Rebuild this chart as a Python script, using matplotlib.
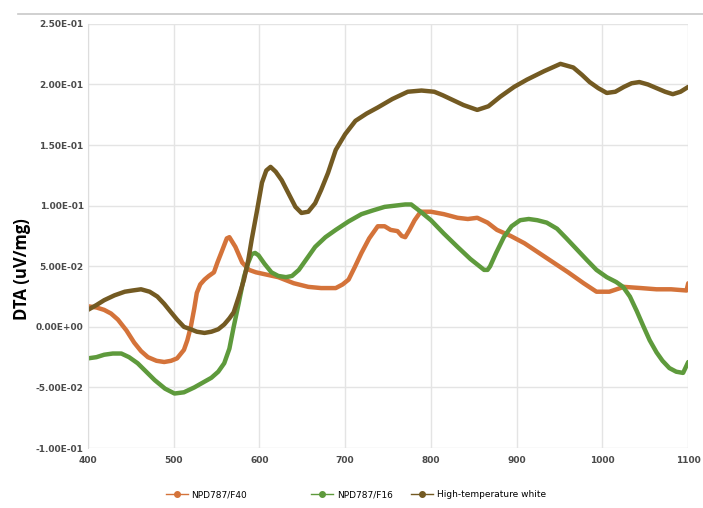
import matplotlib
matplotlib.use("Agg")
import matplotlib.pyplot as plt
from matplotlib.ticker import FuncFormatter, MultipleLocator
from matplotlib.lines import Line2D

# temperature (x) and DTA (y) values
f40_x = [400, 410, 419, 427, 435, 445, 454, 462, 470, 480, 489, 497, 504, 512, 516, 520, 524, 527,
         531, 536, 541, 547, 551, 556, 562, 565, 572, 580, 588, 596, 609, 622, 640, 657, 672, 689,
         697, 704, 711, 719, 728, 738, 746, 753, 761, 766, 770, 775, 781, 788, 800, 815, 831, 843,
         854, 866, 877, 893, 909, 926, 943, 960, 978, 993, 1008, 1025, 1045, 1063, 1080, 1098, 1100]
f40_y = [0.017, 0.016, 0.014, 0.011, 0.006, -0.003, -0.013, -0.020, -0.025, -0.028, -0.029, -0.028,
         -0.026, -0.019, -0.011, 0.000, 0.015, 0.028, 0.035, 0.039, 0.042, 0.045, 0.053, 0.062,
         0.073, 0.074, 0.066, 0.053, 0.047, 0.045, 0.043, 0.041, 0.036, 0.033, 0.032, 0.032, 0.035,
         0.039, 0.049, 0.061, 0.073, 0.083, 0.083, 0.080, 0.079, 0.075, 0.074, 0.080, 0.088, 0.095,
         0.095, 0.093, 0.090, 0.089, 0.090, 0.086, 0.080, 0.075, 0.069, 0.061, 0.053, 0.045, 0.036,
         0.029, 0.029, 0.033, 0.032, 0.031, 0.031, 0.030, 0.036]

f16_x = [400, 410, 419, 429, 439, 448, 458, 468, 478, 490, 501, 512, 524, 534, 544, 552, 559, 565,
         570, 576, 582, 587, 591, 595, 599, 606, 614, 622, 631, 638, 646, 655, 665, 677, 689, 704,
         719, 732, 746, 758, 770, 777, 788, 800, 815, 831, 846, 862, 866, 869, 876, 885, 894, 904,
         914, 924, 935, 947, 958, 970, 982, 993, 1005, 1016, 1024, 1032, 1040, 1048, 1055, 1063,
         1070, 1078, 1086, 1094, 1100]
f16_y = [-0.026, -0.025, -0.023, -0.022, -0.022, -0.025, -0.030, -0.037, -0.044, -0.051, -0.055,
         -0.054, -0.050, -0.046, -0.042, -0.037, -0.030, -0.018, 0.000, 0.020, 0.041, 0.053, 0.060,
         0.061, 0.059, 0.052, 0.045, 0.042, 0.041, 0.042, 0.047, 0.056, 0.066, 0.074, 0.080, 0.087,
         0.093, 0.096, 0.099, 0.100, 0.101, 0.101, 0.095, 0.088, 0.077, 0.066, 0.056, 0.047, 0.047,
         0.050, 0.061, 0.074, 0.083, 0.088, 0.089, 0.088, 0.086, 0.081, 0.073, 0.064, 0.055, 0.047,
         0.041, 0.037, 0.033, 0.025, 0.013, 0.000, -0.011, -0.021, -0.028, -0.034, -0.037, -0.038,
         -0.029]

htw_x = [400, 410, 419, 431, 443, 452, 462, 472, 481, 489, 497, 504, 512, 520, 527, 536, 544, 552,
         559, 565, 570, 576, 582, 587, 591, 597, 603, 608, 613, 619, 626, 634, 642, 649, 657, 665,
         672, 680, 689, 700, 712, 725, 738, 755, 773, 789, 804, 814, 823, 838, 854, 867, 881, 897,
         912, 932, 951, 966, 976, 985, 995, 1005, 1015, 1025, 1034, 1043, 1053, 1063, 1073, 1082,
         1091, 1100]
htw_y = [0.014, 0.018, 0.022, 0.026, 0.029, 0.030, 0.031, 0.029, 0.025, 0.019, 0.012, 0.006,
         0.000, -0.002, -0.004, -0.005, -0.004, -0.002, 0.002, 0.007, 0.012, 0.025, 0.039, 0.055,
         0.072, 0.095, 0.119, 0.129, 0.132, 0.128, 0.121, 0.110, 0.099, 0.094, 0.095, 0.102, 0.113,
         0.127, 0.146, 0.159, 0.170, 0.176, 0.181, 0.188, 0.194, 0.195, 0.194, 0.191, 0.188, 0.183,
         0.179, 0.182, 0.190, 0.198, 0.204, 0.211, 0.217, 0.214, 0.208, 0.202, 0.197, 0.193, 0.194,
         0.198, 0.201, 0.202, 0.200, 0.197, 0.194, 0.192, 0.194, 0.198]

names = ["NPD787/F40", "NPD787/F16", "High-temperature white"]
colors = ["#d4733a", "#5e9a3c", "#735a22"]
legend_x = [0.236, 0.443, 0.585]

fig = plt.figure(figsize=(7.03, 5.08), dpi=100)
ax = fig.add_axes([0.125, 0.118, 0.854, 0.835])

for xs, ys, c in zip([f40_x, f16_x, htw_x], [f40_y, f16_y, htw_y], colors):
    ax.plot(xs, ys, color=c, lw=3.2, solid_capstyle="round", solid_joinstyle="round")

ax.set_xlim(400, 1100)
ax.set_ylim(-0.1, 0.25)
ax.xaxis.set_major_locator(MultipleLocator(100))
ax.yaxis.set_major_locator(MultipleLocator(0.05))
ax.yaxis.set_major_formatter(FuncFormatter(lambda v, p: f"{v:.2E}"))
ax.grid(True, color="#e4e4e4", lw=1)
ax.set_axisbelow(True)
for s in ["top", "right", "bottom"]:
    ax.spines[s].set_visible(False)
ax.spines["left"].set_color("#dddddd")
ax.tick_params(length=0, labelsize=6.5, labelcolor="#4a4a4a")
ax.tick_params(axis="y", pad=3)
ax.tick_params(axis="x", pad=6)
for lbl in ax.get_xticklabels() + ax.get_yticklabels():
    lbl.set_fontweight("bold")
    lbl.set_family("Liberation Sans Narrow")

fig.text(0.031, 0.47, "DTA (uV/mg)", rotation=90, ha="center", va="center",
         fontsize=12, fontweight="bold", family="Open Sans")

# thin frame line at the top of the picture
fig.add_artist(Line2D([0.025, 1.0], [0.973, 0.973], color="#c8c8c8", lw=1.2))

# legend entries sit at uneven spacing in the reference, so place each one
for name, c, lx in zip(names, colors, legend_x):
    h = Line2D([0], [0], color=c, lw=1, marker="o", markersize=4)
    fig.legend([h], [name], loc="center left", bbox_to_anchor=(lx, 0.026), frameon=False,
               handlelength=2.4, handletextpad=0.4, borderpad=0, borderaxespad=0,
               prop={"family": "Liberation Sans Narrow", "size": 6.5})

fig.savefig("out.png", dpi=100)
